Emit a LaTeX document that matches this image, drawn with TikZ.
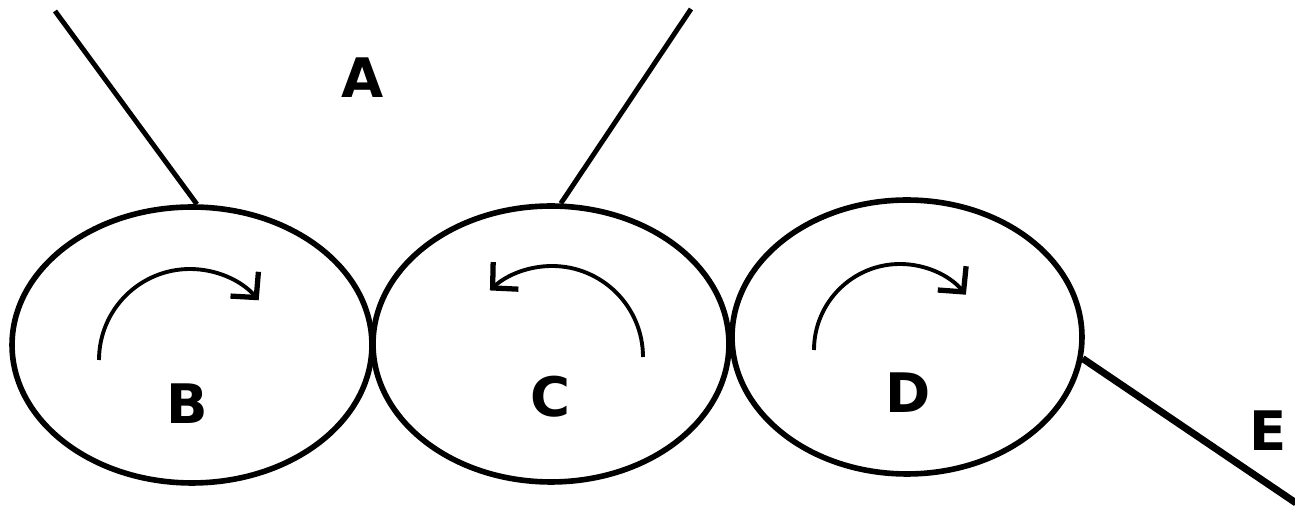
\documentclass[tikz,border=0pt]{standalone}
\usepackage{fontspec}
\setmainfont{DejaVu Sans}
\usetikzlibrary{shapes.geometric,arrows.meta}
\tikzset{
  roller/.style={draw, ellipse, line width=3.2pt, inner sep=0pt},
  lbl/.style={font=\bfseries\fontsize{31}{31}\selectfont, inner sep=0pt},
  feed/.style={line width=2.8pt},
  rot/.style={line width=2.2pt, -{Straight Barb[length=0.36cm,width=0.74cm,line width=3pt]}},
}
\begin{document}
\begin{tikzpicture}[x=0.02cm,y=-0.02cm]
\useasboundingbox (0,0) rectangle (1295,509);
\node[roller, minimum width=7.2cm, minimum height=5.52cm] (b) at (192,345) {};
\node[roller, minimum width=7.12cm, minimum height=5.52cm] (c) at (551,344) {};
\node[roller, minimum width=7.0cm, minimum height=5.48cm] (d) at (907,337) {};
\node[lbl] (la) at (363,78) {A};
\node[lbl] (lb) at (187,404) {B};
\node[lbl] (lc) at (550,397) {C};
\node[lbl] (ld) at (908,393) {D};
\node[lbl] (le) at (1268,431) {E};
\coordinate (p1) at (55,11);
\coordinate (p2) at (691,9);
\coordinate (p3) at (1296,503);
\draw[feed] (p1) -- (b.88);
\draw[feed] (p2) -- (c.86);
\draw[feed, line width=4pt] (d.-7) -- (p3);
\draw[rot] (99,360) arc[start angle=180, end angle=319, radius=91];
\draw[rot] (643,357) arc[start angle=0, end angle=-133, radius=91];
\draw[rot] (814,350) arc[start angle=180, end angle=320, radius=86];
\end{tikzpicture}
\end{document}
